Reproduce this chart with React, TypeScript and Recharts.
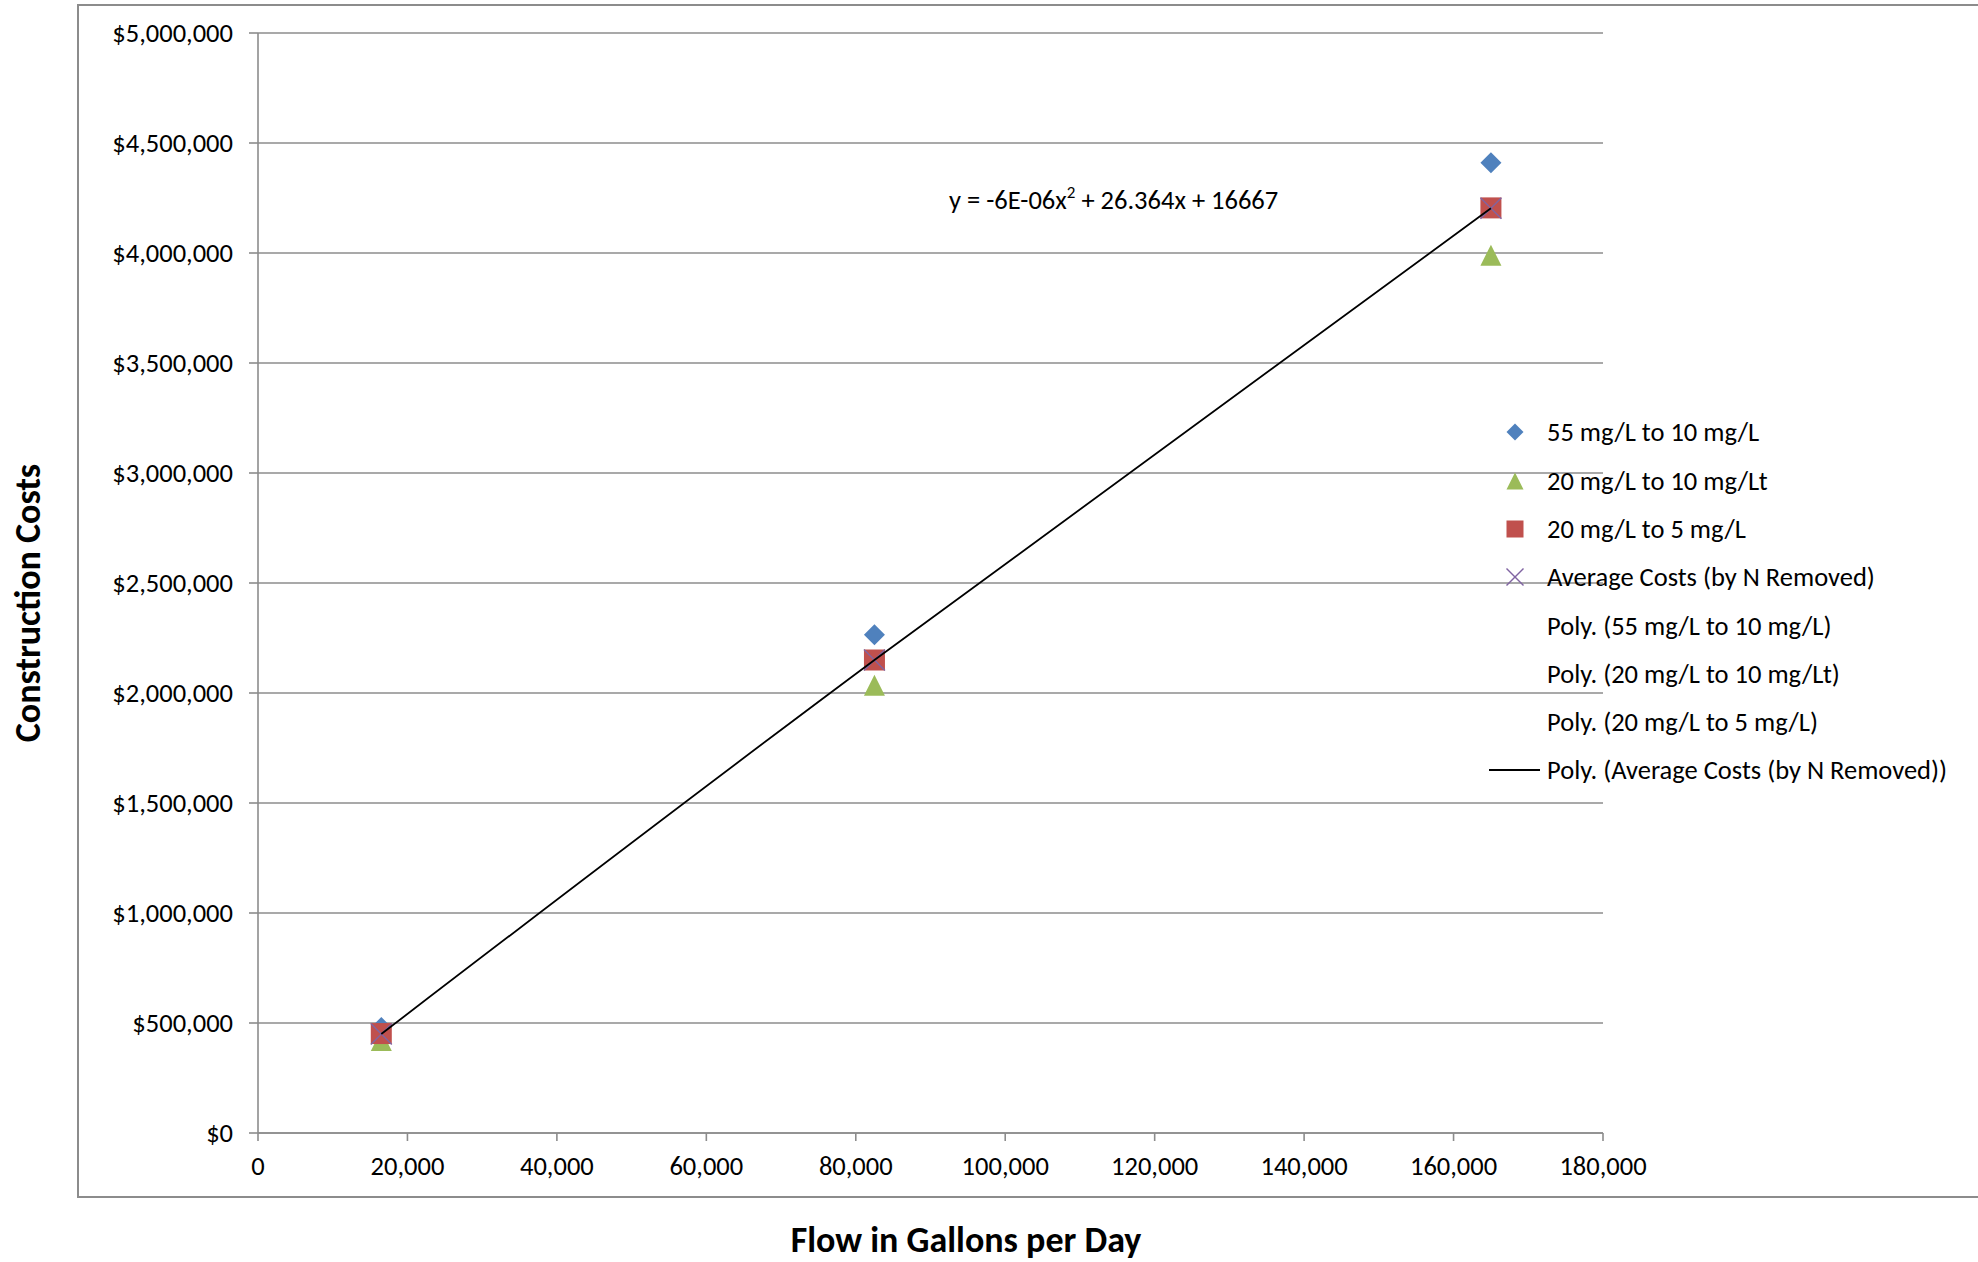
import React from 'react';
import { ScatterChart, Scatter, XAxis, YAxis, CartesianGrid } from 'recharts';

const flows = [16500, 82500, 165000];
const costs55to10 = [480000, 2265000, 4410000];
const costs20to10 = [420000, 2035000, 3990000];
const costs20to5 = [452000, 2150000, 4205000];
const avgCosts = [450000, 2150000, 4203000];

const xTicks = [0, 20000, 40000, 60000, 80000, 100000, 120000, 140000, 160000, 180000];
const yTicks = [0, 500000, 1000000, 1500000, 2000000, 2500000, 3000000, 3500000, 4000000, 4500000, 5000000];

const legendLabels = [
  '55 mg/L to 10 mg/L',
  '20 mg/L to 10 mg/Lt',
  '20 mg/L to 5 mg/L',
  'Average Costs (by N Removed)',
  'Poly. (55 mg/L to 10 mg/L)',
  'Poly. (20 mg/L to 10 mg/Lt)',
  'Poly. (20 mg/L to 5 mg/L)',
  'Poly. (Average Costs (by N Removed))',
];

const equationText = 'y = -6E-06x';
const equationRest = ' + 26.364x + 16667';
const xTitle = 'Flow in Gallons per Day';
const yTitle = 'Construction Costs';

const BLUE = '#4F81BD';
const RED = '#C0504D';
const GREEN = '#9BBB59';
const PURPLE = '#8064A2';
const GRID = '#8c8c8c';
const FONT = 'Carlito, Lato, sans-serif';
const FS = 26.5;

const toPts = (ys: number[]) => flows.map((x, i) => ({ x, y: ys[i] }));

const H = 10.5;
const Diamond = (p: any) => (
  <polygon points={`${p.cx},${p.cy - H} ${p.cx + H},${p.cy} ${p.cx},${p.cy + H} ${p.cx - H},${p.cy}`} fill={BLUE} />
);
const Square = (p: any) => (
  <rect x={p.cx - H} y={p.cy - H} width={2 * H} height={2 * H} fill={RED} />
);
const Triangle = (p: any) => (
  <polygon points={`${p.cx},${p.cy - H} ${p.cx + H},${p.cy + H} ${p.cx - H},${p.cy + H}`} fill={GREEN} />
);
const Cross = (p: any) => (
  <g stroke={PURPLE} strokeWidth={1.4}>
    <line x1={p.cx - H} y1={p.cy - H} x2={p.cx + H} y2={p.cy + H} />
    <line x1={p.cx - H} y1={p.cy + H} x2={p.cx + H} y2={p.cy - H} />
  </g>
);
const Empty = () => <g />;

const fmtMoney = (v: number) => '$' + v.toLocaleString('en-US');
const fmtNum = (v: number) => v.toLocaleString('en-US');

const legendRowY = [432, 481, 529, 577, 626, 674, 722, 770];

function LegendMarker({ i, y }: { i: number; y: number }) {
  const cx = 1515;
  const h = 8.5;
  if (i === 0) return <polygon points={`${cx},${y - h} ${cx + h},${y} ${cx},${y + h} ${cx - h},${y}`} fill={BLUE} />;
  if (i === 1) return <polygon points={`${cx},${y - h} ${cx + h},${y + h} ${cx - h},${y + h}`} fill={GREEN} />;
  if (i === 2) return <rect x={cx - h} y={y - h} width={2 * h} height={2 * h} fill={RED} />;
  if (i === 3)
    return (
      <g stroke={PURPLE} strokeWidth={1.4}>
        <line x1={cx - h} y1={y - h} x2={cx + h} y2={y + h} />
        <line x1={cx - h} y1={y + h} x2={cx + h} y2={y - h} />
      </g>
    );
  if (i === 7) return <line x1={1489} x2={1540} y1={y} y2={y} stroke="#000" strokeWidth={1.8} />;
  return null;
}

export default function App() {
  return (
    <div style={{ position: 'absolute', left: 0, top: 0, width: 1978, height: 1262, background: '#fff', overflow: 'hidden' }}>
      <ScatterChart
        width={1978}
        height={1262}
        margin={{ top: 33, right: 375, bottom: 0, left: 0 }}
        style={{ position: 'absolute', left: 0, top: 0 }}
      >
        <CartesianGrid vertical={false} stroke={GRID} strokeWidth={1.6} />
        <XAxis
          type="number"
          dataKey="x"
          domain={[0, 180000]}
          ticks={xTicks}
          tickFormatter={fmtNum}
          height={129}
          tickSize={8}
          tickMargin={15}
          axisLine={{ stroke: GRID, strokeWidth: 1.6 }}
          tickLine={{ stroke: GRID, strokeWidth: 1.6 }}
          tick={{ fill: '#000', fontSize: FS, fontFamily: FONT }}
          interval={0}
          allowDataOverflow
        />
        <YAxis
          type="number"
          dataKey="y"
          domain={[0, 5000000]}
          ticks={yTicks}
          tickFormatter={fmtMoney}
          width={258}
          tickSize={9}
          tickMargin={16}
          axisLine={{ stroke: GRID, strokeWidth: 1.6 }}
          tickLine={{ stroke: GRID, strokeWidth: 1.6 }}
          tick={{ fill: '#000', fontSize: FS, fontFamily: FONT }}
          interval={0}
          allowDataOverflow
        />
        <Scatter name={legendLabels[0]} data={toPts(costs55to10)} shape={Diamond} isAnimationActive={false} />
        <Scatter name={legendLabels[1]} data={toPts(costs20to10)} shape={Triangle} isAnimationActive={false} />
        <Scatter name={legendLabels[2]} data={toPts(costs20to5)} shape={Square} isAnimationActive={false} />
        <Scatter name={legendLabels[3]} data={toPts(avgCosts)} shape={Cross} isAnimationActive={false} />
        <Scatter
          name={legendLabels[7]}
          data={toPts(avgCosts)}
          shape={Empty}
          fill="#000"
          line={{ stroke: '#000', strokeWidth: 1.8 }}
          lineJointType="natural"
          isAnimationActive={false}
        />
      </ScatterChart>
      <svg
        width={1978}
        height={1262}
        style={{ position: 'absolute', left: 0, top: 0, pointerEvents: 'none' }}
        fontFamily={FONT}
      >
        <rect x={78} y={5} width={2000} height={1192} fill="none" stroke={GRID} strokeWidth={2} />
        <text
          x={28}
          y={603}
          transform="rotate(-90 28 603)"
          textAnchor="middle"
          dominantBaseline="central"
          fontWeight="bold"
          fontSize={36}
          fill="#000"
        >
          {yTitle}
        </text>
        <text x={966} y={1240} textAnchor="middle" dominantBaseline="central" fontWeight="bold" fontSize={36} fill="#000">
          {xTitle}
        </text>
        <text x={949} y={200} dominantBaseline="central" fontSize={FS} fill="#000">
          {equationText}
          <tspan fontSize={17} dy={-8}>2</tspan>
          <tspan dy={8}>{equationRest}</tspan>
        </text>
        {legendLabels.map((l, i) => (
          <g key={l}>
            <LegendMarker i={i} y={legendRowY[i]} />
            <text x={1547} y={legendRowY[i]} dominantBaseline="central" fontSize={FS} fill="#000">
              {l}
            </text>
          </g>
        ))}
      </svg>
    </div>
  );
}
